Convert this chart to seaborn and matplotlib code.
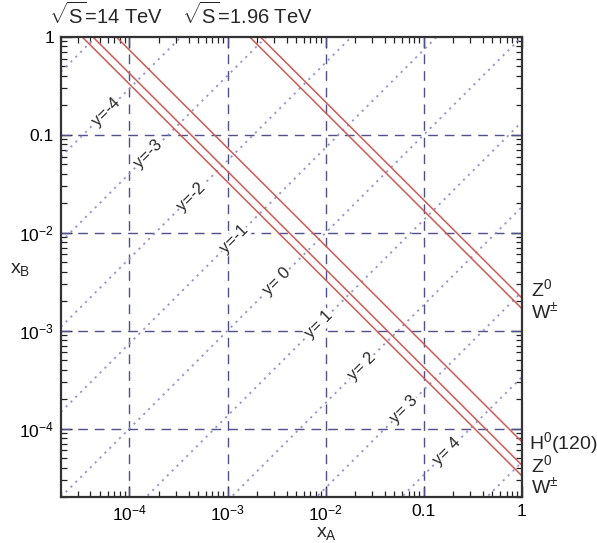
import numpy as np
import pandas as pd
import matplotlib
matplotlib.use("Agg")
import matplotlib.pyplot as plt
import seaborn as sns
from matplotlib.ticker import FixedLocator, FixedFormatter, LogLocator, NullFormatter

# ---- data ----
lhc_sqrt_s_gev = 14000.0
tev_sqrt_s_gev = 1960.0
lhc_particles = [r"H$^0$(120)", r"Z$^0$", r"W$^{\pm}$"]
lhc_masses = [120.0, 91.19, 80.4]
tev_particles = [r"Z$^0$", r"W$^{\pm}$"]
tev_masses = [91.19, 80.4]
rapidity_lines = [-5, -4, -3, -2, -1, 0, 1, 2, 3, 4, 5]
rapidity_labels = [-4, -3, -2, -1, 0, 1, 2, 3, 4]
rapidity_texts = ["y=-4", "y=-3", "y=-2", "y=-1", "y= 0", "y= 1", "y= 2", "y= 3", "y= 4"]
tick_values = [1e-4, 1e-3, 1e-2, 0.1, 1]
tick_labels = [r"$10^{-4}$", r"$10^{-3}$", r"$10^{-2}$", "0.1", "1"]
x_min, x_max = 2e-5, 1.0

sns.set_theme(style="white")
plt.rcParams["font.family"] = ["Liberation Sans", "DejaVu Sans"]
plt.rcParams["mathtext.fontset"] = "custom"
plt.rcParams["mathtext.rm"] = "Liberation Sans"
plt.rcParams["mathtext.it"] = "Liberation Sans:italic"
plt.rcParams["mathtext.bf"] = "Liberation Sans:bold"

fig = plt.figure(figsize=(5.97, 5.43), dpi=100)
ax = fig.add_axes([0.102, 0.0847, 0.772, 0.8472])

xa = np.logspace(np.log10(x_min), 0, 400)

# rapidity lines
rows = []
for k in rapidity_lines:
    for v in xa:
        rows.append({"xA": v, "xB": v * np.exp(-2 * k), "y": str(k)})
df_rap = pd.DataFrame(rows)
sns.lineplot(data=df_rap, x="xA", y="xB", units="y", estimator=None,
             color="#9494c8", linestyle=(0, (1.2, 2.6)), linewidth=1.3,
             ax=ax, sort=False, legend=False)

# mass lines
rows = []
for s, masses, tag in [(lhc_sqrt_s_gev, lhc_masses, "lhc"), (tev_sqrt_s_gev, tev_masses, "tev")]:
    for m in masses:
        tau = (m / s) ** 2
        for v in np.logspace(np.log10(tau), 0, 200):
            rows.append({"xA": v, "xB": tau / v, "line": f"{tag}{m}"})
df_m = pd.DataFrame(rows)
sns.lineplot(data=df_m, x="xA", y="xB", units="line", estimator=None,
             color="#cf5a55", linewidth=1.1, ax=ax, sort=False, legend=False)

ax.set_xscale("log")
ax.set_yscale("log")
ax.set_xlim(x_min, x_max)
ax.set_ylim(x_min, x_max)

# grid at decades
for t in tick_values[:-1]:
    ax.axvline(t, color="#50508a", linestyle=(0, (7, 5)), linewidth=1.0, zorder=1)
    ax.axhline(t, color="#50508a", linestyle=(0, (7, 5)), linewidth=1.0, zorder=1)

# ticks
for axis in (ax.xaxis, ax.yaxis):
    axis.set_major_locator(FixedLocator(tick_values))
    axis.set_major_formatter(FixedFormatter(tick_labels))
    axis.set_minor_locator(LogLocator(base=10, subs=np.arange(2, 10), numticks=20))
    axis.set_minor_formatter(NullFormatter())
ax.tick_params(which="both", direction="in", top=True, right=True, bottom=True, left=True,
               colors="#222222", labelcolor="black", labelsize=12.5)
ax.tick_params(which="major", length=8, width=1.0, pad=5)
ax.tick_params(which="minor", length=4, width=0.9)
for sp in ax.spines.values():
    sp.set_color("#333333")
    sp.set_linewidth(1.6)

ax.set_xlabel(r"x$_\mathrm{A}$", fontsize=14, va="baseline")
ax.xaxis.set_label_coords(0.577, -0.087)
ax.set_ylabel(r"x$_\mathrm{B}$", fontsize=14, rotation=0)
ax.yaxis.set_label_coords(-0.088, 0.475)

# rapidity labels
for k, txt in zip(rapidity_labels, rapidity_texts):
    px = 10 ** -2.5 * np.exp(k)
    py = 10 ** -2.5 * np.exp(-k)
    ax.text(px, py, txt, rotation=45, ha="center", va="center", fontsize=12,
            rotation_mode="anchor",
            bbox=dict(facecolor="white", edgecolor="none", pad=0.5), zorder=5)

# right labels (pixel offsets to keep neighbours apart)
tev_offsets = [9, -3]
lhc_offsets = [-1, 0, -11]
for name, m, off in zip(tev_particles, tev_masses, tev_offsets):
    tau = (m / tev_sqrt_s_gev) ** 2
    ax.annotate(name, xy=(1.0, tau), xycoords=("axes fraction", "data"),
                xytext=(9, off), textcoords="offset pixels", va="center", ha="left",
                fontsize=14, annotation_clip=False)
for name, m, off in zip(lhc_particles, lhc_masses, lhc_offsets):
    tau = (m / lhc_sqrt_s_gev) ** 2
    ax.annotate(name, xy=(1.0, tau), xycoords=("axes fraction", "data"),
                xytext=(7 if "H" in name else 9, off), textcoords="offset pixels",
                va="center", ha="left", fontsize=14, annotation_clip=False)

# energy titles
ax.annotate(r"$\sqrt{\mathrm{S}}$=14 TeV", xy=(5.8e-5, 1.0),
            xycoords=("data", "axes fraction"), xytext=(0, 9), textcoords="offset pixels",
            ha="center", va="bottom", fontsize=14.5, annotation_clip=False)
ax.annotate(r"$\sqrt{\mathrm{S}}$=1.96 TeV", xy=(1.6e-3, 1.0),
            xycoords=("data", "axes fraction"), xytext=(0, 9), textcoords="offset pixels",
            ha="center", va="bottom", fontsize=14.5, annotation_clip=False)

fig.savefig("out.png", dpi=100)
